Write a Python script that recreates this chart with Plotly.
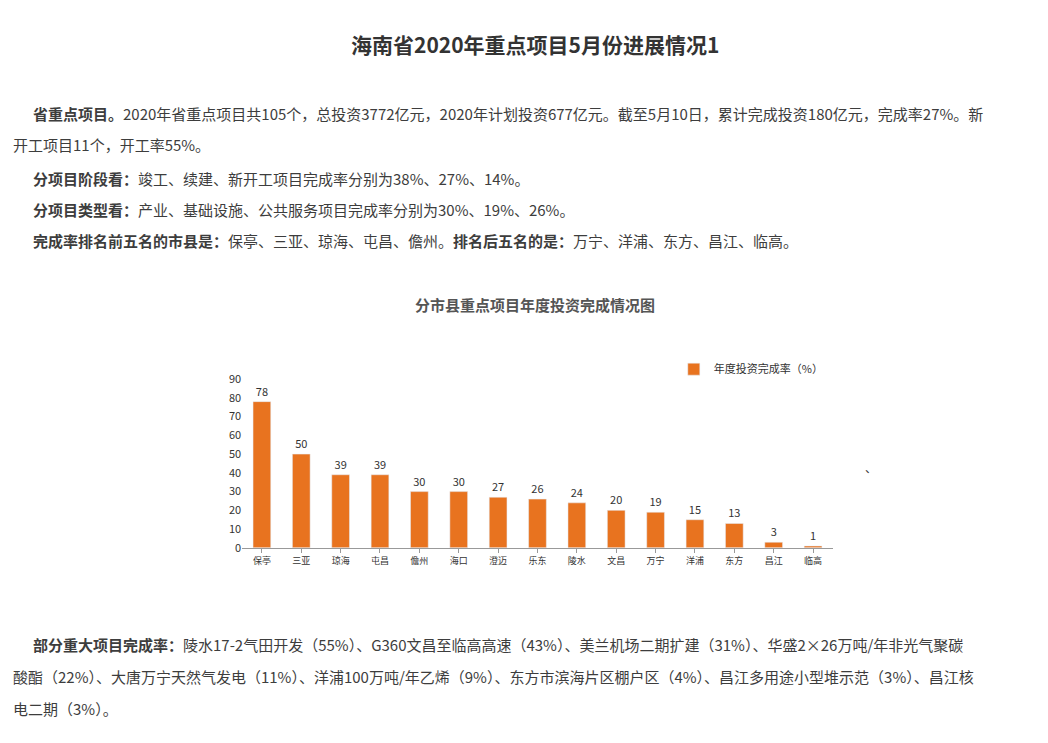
import plotly.graph_objects as go

cities = ["保亭","三亚","琼海","屯昌","儋州","海口","澄迈","乐东","陵水","文昌","万宁","洋浦","东方","昌江","临高"]
rates = [78,50,39,39,30,30,27,26,24,20,19,15,13,3,1]

W, H = 1048, 743
def cx(x): return 33 + (x - 43) / 0.994
def cy(y): return 115 + (y - 131) / 0.98
def px(x): return cx(x) / W
def py(y): return 1 - cy(y) / H

fig = go.Figure(go.Bar(x=cities, y=rates, marker_color="#E8731F", width=0.45,
    name="年度投资完成率（%）", text=rates, textposition="outside",
    textfont=dict(size=11, color="#333"), cliponaxis=False))

F = "Noto Sans CJK SC"
ann = []
def t(x, y, s, size=15, anchor="left", color="#3d3d3d"):
    ann.append(dict(x=px(x), y=py(y), xref="paper", yref="paper", text=s, showarrow=False,
                    xanchor=anchor, yanchor="middle", font=dict(size=size, color=color, family=F)))

t(534, 45, "<b>海南省2020年重点项目5月份进展情况1</b>", 21, "center", "#333")
t(33, 115, "<b>省重点项目。</b>2020年省重点项目共105个，总投资3772亿元，2020年计划投资677亿元。截至5月10日，累计完成投资180亿元，完成率27%。新")
t(13, 146, "开工项目11个，开工率55%。")
t(33, 180, "<b>分项目阶段看：</b>竣工、续建、新开工项目完成率分别为38%、27%、14%。")
t(33, 211, "<b>分项目类型看：</b>产业、基础设施、公共服务项目完成率分别为30%、19%、26%。")
t(33, 242, "<b>完成率排名前五名的市县是：</b>保亭、三亚、琼海、屯昌、儋州。<b>排名后五名的是：</b>万宁、洋浦、东方、昌江、临高。")
t(534, 306, "<b>分市县重点项目年度投资完成情况图</b>", 15, "center", "#555")
t(860, 470, "、", 12)
t(33, 647, "<b>部分重大项目完成率：</b>陵水17-2气田开发（55%）、G360文昌至临高高速（43%）、美兰机场二期扩建（31%）、华盛2×26万吨/年非光气聚碳")
t(13, 679, "酸酯（22%）、大唐万宁天然气发电（11%）、洋浦100万吨/年乙烯（9%）、东方市滨海片区棚户区（4%）、昌江多用途小型堆示范（3%）、昌江核")
t(13, 711, "电二期（3%）。")

fig.update_layout(width=W, height=H, margin=dict(l=0, r=0, t=0, b=0),
    paper_bgcolor="white", plot_bgcolor="white", annotations=ann,
    font=dict(family=F, color="#333"), bargap=0.5,
    showlegend=True,
    legend=dict(x=px(672), y=py(371), xanchor="left", yanchor="middle",
                font=dict(size=11, color="#333"), bgcolor="rgba(0,0,0,0)"),
    xaxis=dict(domain=[px(243), px(830)], showline=True, linecolor="#999",
               ticks="outside", tickcolor="#999", ticklen=4, tickfont=dict(size=9)),
    yaxis=dict(domain=[py(550), py(381)], range=[0, 90], dtick=10, showgrid=False,
               showline=False, zeroline=False, tickfont=dict(size=11)))
fig.write_html("out.html")
